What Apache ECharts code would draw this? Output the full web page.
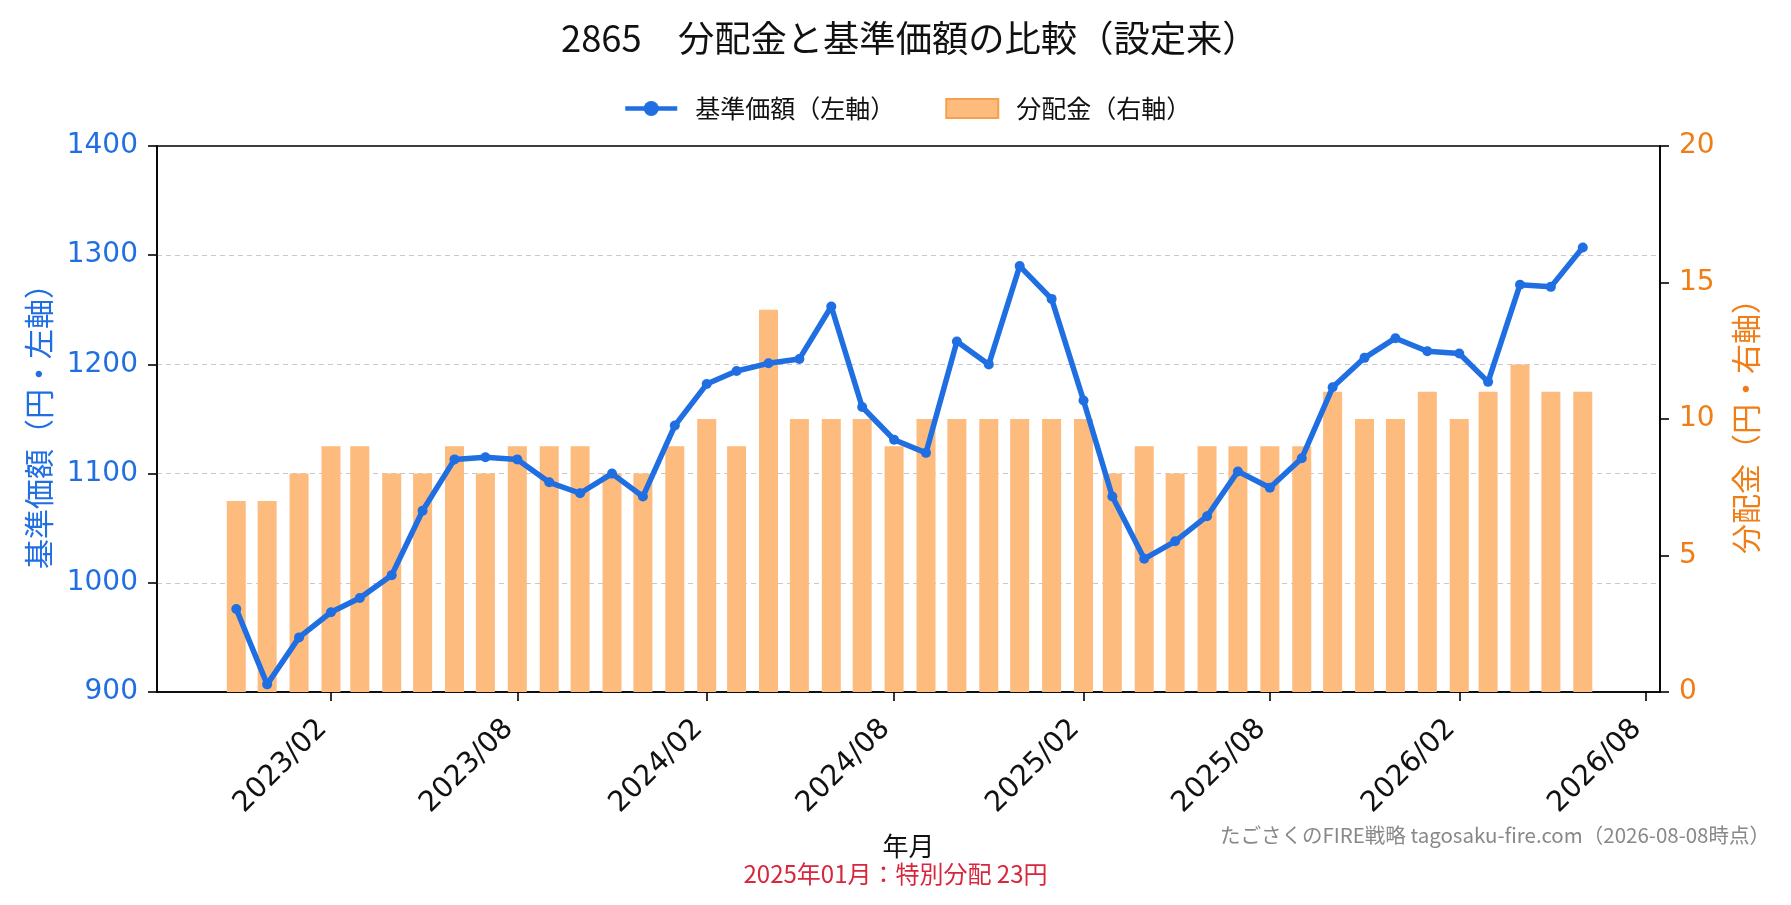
<!DOCTYPE html>
<html lang="ja">
<head>
<meta charset="UTF-8">
<title>2865 分配金と基準価額の比較</title>
<script src="https://cdn.jsdelivr.net/npm/echarts@6/dist/echarts.min.js"></script>
<style>
  html, body { margin: 0; padding: 0; background: #fff; }
  #chart { width: 1791px; height: 905px; }
</style>
</head>
<body>
<div id="chart"></div>
<script>
// 年月
var months = [
  '2022/11', '2022/12', '2023/01', '2023/02', '2023/03', '2023/04', '2023/05', '2023/06',
  '2023/07', '2023/08', '2023/09', '2023/10', '2023/11', '2023/12', '2024/01', '2024/02',
  '2024/03', '2024/04', '2024/05', '2024/06', '2024/07', '2024/08', '2024/09', '2024/10',
  '2024/11', '2024/12', '2025/01', '2025/02', '2025/03', '2025/04', '2025/05', '2025/06',
  '2025/07', '2025/08', '2025/09', '2025/10', '2025/11', '2025/12', '2026/01', '2026/02',
  '2026/03', '2026/04', '2026/05', '2026/06'
];
// 基準価額（円）
var navValues = [
  976, 907, 950, 973, 986, 1007, 1066, 1113,
  1115, 1113, 1092, 1082, 1100, 1079, 1144, 1182,
  1194, 1201, 1205, 1253, 1161, 1131, 1119, 1221,
  1200, 1290, 1260, 1167, 1079, 1022, 1038, 1061,
  1102, 1087, 1114, 1179, 1206, 1224, 1212, 1210,
  1184, 1273, 1271, 1307
];
// 分配金（円）
var distValues = [
  7, 7, 8, 9, 9, 8, 8, 9,
  8, 9, 9, 9, 8, 8, 9, 10,
  9, 14, 10, 10, 10, 9, 10, 10,
  10, 10, 10, 10, 8, 9, 8, 9,
  9, 9, 9, 11, 10, 10, 11, 10,
  11, 12, 11, 11
];
// x軸の目盛
var xTickLabels = ['2023/02', '2023/08', '2024/02', '2024/08', '2025/02', '2025/08', '2026/02', '2026/08'];
var leftTicks = [900, 1400, 100];
var rightTicks = [0, 20, 5];

var BLUE = '#1f6fe3';
var ORANGE = '#f07d16';
var BAR = '#fdbb7e';
var NUM_FONT = 'DejaVu Sans';
var JP_FONT = 'Noto Sans CJK JP';

function toTime(ym) {
  var p = ym.split('/');
  return new Date(+p[0], +p[1] - 1, 1).getTime();
}
function fmt(t) {
  var d = new Date(t);
  var m = d.getMonth() + 1;
  return d.getFullYear() + '/' + (m < 10 ? '0' + m : m);
}

var navData = months.map(function (m, i) { return [toTime(m), navValues[i]]; });
var distData = months.map(function (m, i) { return [toTime(m), distValues[i]]; });
var tickTimes = xTickLabels.map(toTime);

var axisLine = { show: true, lineStyle: { color: '#000', width: 1.6 } };
var axisTick = { show: true, length: 9, lineStyle: { color: '#000', width: 1.6 } };

var chart = echarts.init(document.getElementById('chart'));
chart.setOption({
  animation: false,
  backgroundColor: '#fff',
  textStyle: { fontFamily: JP_FONT },
  title: [{
    text: '2865　分配金と基準価額の比較（設定来）',
    left: 556,
    top: 15,
    textStyle: { fontSize: 36.3, fontWeight: 'normal', color: '#111', fontFamily: JP_FONT }
  }, {
    text: '2025年01月：特別分配 23円',
    left: 'center',
    top: 857,
    textStyle: { fontSize: 24, fontWeight: 'normal', color: '#d7263d', fontFamily: JP_FONT }
  }, {
    text: 'たごさくのFIRE戦略 tagosaku-fire.com（2026-08-08時点）',
    right: 16,
    top: 820,
    textStyle: { fontSize: 20.5, fontWeight: 'normal', color: '#888', fontFamily: JP_FONT }
  }],
  legend: {
    top: 91,
    left: 618,
    itemWidth: 52,
    itemHeight: 19,
    itemGap: 50,
    textStyle: { fontSize: 25, color: '#111', fontFamily: JP_FONT, padding: [0, 0, 0, 13] },
    data: [
      { name: '基準価額（左軸）', lineStyle: { width: 4.5 } },
      { name: '分配金（右軸）', icon: 'rect', itemStyle: { color: BAR, borderColor: '#f5a04c', borderWidth: 2 } }
    ]
  },
  grid: {
    left: 157, right: 131, top: 146, bottom: 213,
    show: true, borderColor: '#000', borderWidth: 1.6, backgroundColor: 'transparent'
  },
  xAxis: {
    type: 'value',
    min: new Date(2022, 7, 16).getTime(),
    max: new Date(2026, 7, 15).getTime(),
    name: '年月',
    nameLocation: 'middle',
    nameGap: 141,
    nameTextStyle: { fontSize: 26, color: '#111', fontFamily: JP_FONT },
    axisLine: axisLine,
    axisTick: { show: true, length: 9, lineStyle: { color: '#000', width: 1.6 }, customValues: tickTimes },
    axisLabel: {
      rotate: 45, margin: 24, padding: [0, 12, 0, 0],
      fontSize: 28.5, color: '#111', fontFamily: NUM_FONT,
      customValues: tickTimes,
      formatter: function (v) { return fmt(v); }
    },
    splitLine: { show: false }
  },
  yAxis: [{
    type: 'value',
    min: leftTicks[0], max: leftTicks[1], interval: leftTicks[2],
    name: '基準価額（円・左軸）',
    nameLocation: 'middle',
    nameRotate: 90,
    nameGap: 103,
    nameTextStyle: { fontSize: 30, color: BLUE, fontFamily: JP_FONT },
    axisLine: axisLine,
    axisTick: axisTick,
    axisLabel: { margin: 19, fontSize: 28, color: BLUE, fontFamily: NUM_FONT, formatter: function (v) { return String(v); } },
    splitLine: { show: true, showMinLine: false, showMaxLine: false, lineStyle: { color: '#c8c8c8', type: [5, 4], width: 1.2 } }
  }, {
    type: 'value',
    min: rightTicks[0], max: rightTicks[1], interval: rightTicks[2],
    position: 'right',
    name: '分配金（円・右軸）',
    nameLocation: 'middle',
    nameRotate: 90,
    nameGap: 71,
    nameTextStyle: { fontSize: 30, color: ORANGE, fontFamily: JP_FONT },
    axisLine: axisLine,
    axisTick: axisTick,
    axisLabel: { margin: 19, fontSize: 28, color: ORANGE, fontFamily: NUM_FONT },
    splitLine: { show: false }
  }],
  series: [{
    name: '分配金（右軸）',
    type: 'bar',
    yAxisIndex: 1,
    barWidth: 19,
    itemStyle: { color: BAR },
    data: distData,
    z: 1
  }, {
    name: '基準価額（左軸）',
    type: 'line',
    yAxisIndex: 0,
    symbol: 'circle',
    symbolSize: 10,
    showAllSymbol: true,
    lineStyle: { color: BLUE, width: 5.5 },
    itemStyle: { color: BLUE },
    data: navData,
    z: 3
  }]
});
</script>
</body>
</html>
